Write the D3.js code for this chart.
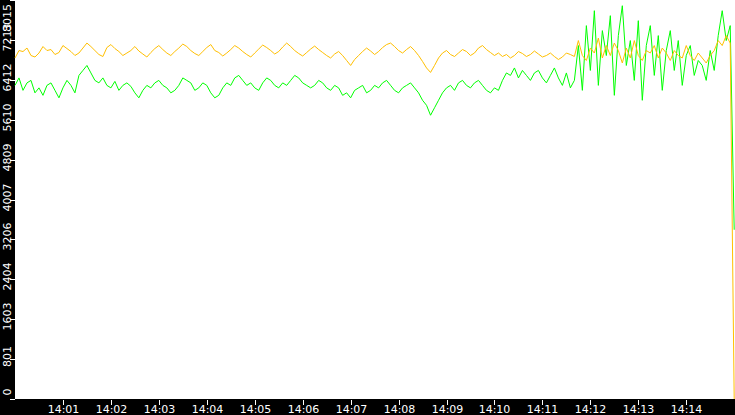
<!DOCTYPE html>
<html>
<head>
<meta charset="utf-8">
<script src="https://cdn.jsdelivr.net/npm/d3@7"></script>
<style>
  html, body { margin: 0; padding: 0; background: #000; }
  svg { display: block; }
</style>
</head>
<body>
<svg id="chart" width="735" height="415"></svg>
<script>
// samples every 5 seconds from 14:00:00
const stepSec = 5;
const yellowSeries = [
  6850,7000,6980,7050,6900,6870,6950,7080,7000,7020,6920,6960,7100,7040,6980,6900,6950,7050,7150,7080,7000,
  6920,6880,7060,7120,7040,6980,6900,6950,7000,7080,6990,6930,6870,6960,7040,7100,7020,6950,6900,6980,
  7050,7130,7080,7000,6940,6900,6980,7060,7120,7000,6960,6890,6950,7020,7100,7050,6980,6920,6870,6950,
  7030,7110,7060,7000,6930,6980,7070,7150,7080,7000,6940,6890,6960,7030,7090,7020,6960,6900,6850,6930,
  6980,6900,6800,6700,6820,6900,6980,7050,6990,6920,6980,7060,7120,7150,7080,7000,6950,7020,7080,7000,
  6900,6780,6650,6560,6700,6850,6950,7000,6920,6880,6950,7020,6980,6900,6950,7050,7100,7020,6960,6900,
  6950,6880,6920,6850,6900,6980,6940,6880,6920,6990,6930,6870,6900,6950,6880,6820,6870,6950,6920,6880,
  7200,6900,6800,7050,6950,7250,6850,7100,6900,7150,7000,6750,7050,6850,7200,6900,6800,7000,6950,7100,
  6850,7050,6950,6800,7000,6900,6850,7100,6900,6800,6950,6850,6750,6900,7000,7200,7100,7300,7150,
  0
];
const greenSeries = [
  6300,6450,6200,6350,6400,6150,6250,6100,6300,6350,6200,6050,6250,6400,6300,6150,6500,6600,6700,6550,6400,
  6350,6450,6300,6250,6380,6200,6300,6350,6280,6150,6050,6200,6300,6250,6350,6400,6300,6250,6150,6200,
  6300,6450,6400,6350,6200,6250,6350,6300,6150,6050,6100,6250,6350,6300,6450,6500,6400,6300,6350,6250,
  6200,6350,6450,6400,6300,6250,6350,6300,6400,6500,6450,6350,6300,6250,6300,6400,6350,6250,6200,6300,
  6250,6100,6150,6050,6200,6250,6300,6150,6200,6300,6250,6350,6400,6300,6200,6150,6250,6300,6350,6250,
  6150,6000,5900,5700,5850,6000,6150,6250,6300,6200,6350,6400,6300,6250,6350,6400,6300,6200,6150,6250,
  6200,6400,6550,6500,6650,6450,6600,6500,6400,6550,6600,6450,6350,6500,6650,6450,6300,6550,6250,6400,
  7100,6200,7500,6600,7800,6300,7400,6900,7700,6100,7300,7900,6700,7200,6400,7600,6000,7100,7500,6500,
  7300,6200,7000,7400,6600,7200,6300,6900,7100,6500,6800,6700,6400,7000,6600,7300,7800,7200,7500,
  3400
];
const yTickLabels = ["0","801","1603","2404","3206","4007","4809","5610","6412","7213","8015"];
const xTickLabels = ["14:01","14:02","14:03","14:04","14:05","14:06","14:07","14:08","14:09","14:10","14:11","14:12","14:13","14:14"];

const W = 735, H = 415;
const left = 15, bottom = 399;
const svg = d3.select("#chart");

const t0 = new Date(2020, 0, 1, 14, 0, 0);
const x = d3.scaleTime()
  .domain([t0, new Date(2020, 0, 1, 14, 15, 1)])
  .range([left, W]);
const y = d3.scaleLinear().domain([0, 8015]).range([bottom, 0]);

svg.append("rect").attr("x", left).attr("y", 0)
  .attr("width", W - left).attr("height", bottom).attr("fill", "#fff");

const timeOf = i => new Date(t0.getTime() + i * stepSec * 1000);
const line = d3.line().x((d, i) => x(timeOf(i))).y(d => y(d));

svg.append("path").datum(greenSeries)
  .attr("d", line).attr("fill", "none")
  .attr("stroke", "#00ff00").attr("stroke-width", 1);
svg.append("path").datum(yellowSeries)
  .attr("d", line).attr("fill", "none")
  .attr("stroke", "#ffbf00").attr("stroke-width", 1);

// y axis (rotated labels in black band)
const yg = svg.append("g");
yTickLabels.forEach(lbl => {
  const yy = Math.round(y(+lbl)) + 0.5;
  yg.append("line").attr("x1", 10).attr("x2", left).attr("y1", yy).attr("y2", yy)
    .attr("stroke", "#fff");
  yg.append("text")
    .attr("transform", `translate(11,${Math.min(Math.max(yy - 3, 18), 392)}) rotate(-90)`)
    .attr("text-anchor", "middle")
    .attr("fill", "#fff")
    .style("font", "11px 'DejaVu Sans'")
    .text(lbl);
});

// x axis
const xg = svg.append("g");
xTickLabels.forEach(lbl => {
  const [hh, mm] = lbl.split(":").map(Number);
  const xx = Math.round(x(new Date(2020, 0, 1, hh, mm, 0))) + 0.5;
  xg.append("line").attr("x1", xx).attr("x2", xx).attr("y1", 400).attr("y2", 405)
    .attr("stroke", "#fff");
  xg.append("text")
    .attr("x", xx).attr("y", 413)
    .attr("text-anchor", "middle")
    .attr("fill", "#fff")
    .style("font", "11px 'DejaVu Sans'")
    .text(lbl);
});
</script>
</body>
</html>
